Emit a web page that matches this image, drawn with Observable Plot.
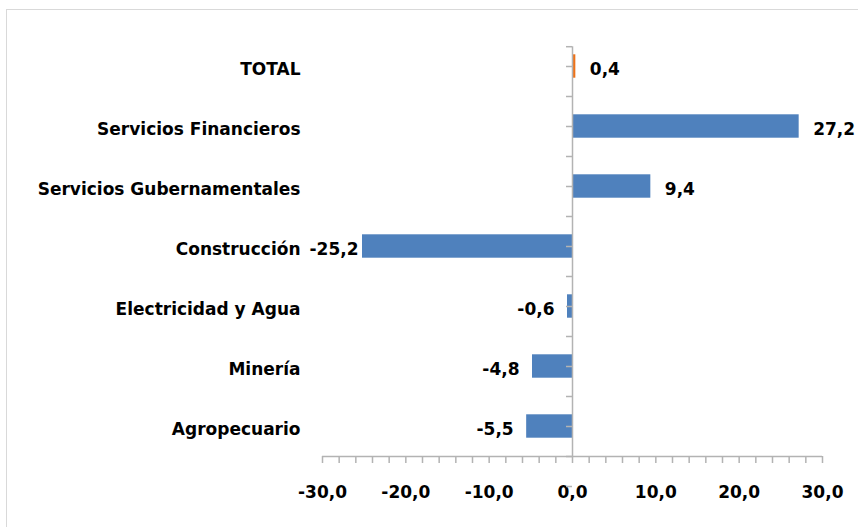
<!DOCTYPE html>
<html>
<head>
<meta charset="utf-8">
<script src="https://cdn.jsdelivr.net/npm/d3@7"></script>
<script src="https://cdn.jsdelivr.net/npm/@observablehq/plot@0.6"></script>
<style>
  html, body { margin: 0; padding: 0; background: #fff; }
  #wrap { position: relative; width: 858px; height: 527px; overflow: hidden; }
  #border { position: absolute; left: 6px; top: 9px; width: 860px; height: 530px; border: 1px solid #d9d9d9; box-sizing: border-box; pointer-events: none; }
  svg { font-family: "DejaVu Sans", sans-serif; }
</style>
</head>
<body>
<div id="wrap"><div id="border"></div><div id="chart"></div></div>
<script>
const categories = ["TOTAL", "Servicios Financieros", "Servicios Gubernamentales", "Construcción", "Electricidad y Agua", "Minería", "Agropecuario"];
const values = [0.4, 27.2, 9.4, -25.2, -0.6, -4.8, -5.5];
const barColors = ["#EE7218", "#4F81BD", "#4F81BD", "#4F81BD", "#4F81BD", "#4F81BD", "#4F81BD"];
const xTickLabels = [-30, -20, -10, 0, 10, 20, 30];
const xMinorTicks = d3.range(-30, 31, 2);

const data = categories.map((c, i) => ({cat: c, i, v: values[i], color: barColors[i]}));
const fmt = d => d.toFixed(1).replace(".", ",");
const half = 0.195;
const yBoundaryTicks = d3.range(0, categories.length + 0.5, 0.5);
const axisTop = -0.33;
const gray = "#b3b3b3";
const bottom = categories.length - 0.5;

const chart = Plot.plot({
  width: 858,
  height: 527,
  marginLeft: 322,
  marginRight: 36,
  marginTop: 36,
  marginBottom: 71,
  x: {domain: [-30, 30]},
  y: {domain: [bottom, -0.5]},
  style: {fontSize: "17px", fontWeight: "bold", color: "#000", background: "transparent"},
  marks: [
    Plot.rect(data, {x1: 0, x2: "v", y1: d => d.i - half, y2: d => d.i + half, fill: "color"}),
    // horizontal axis line
    Plot.ruleY([bottom], {stroke: gray, strokeWidth: 1.5}),
    // x ticks (short rules below the axis line)
    Plot.ruleX(xMinorTicks, {y1: bottom, y2: bottom, insetBottom: -7, stroke: gray, strokeWidth: 1.5}),
    // x tick labels
    Plot.text(xTickLabels, {x: d => d, y: bottom, text: fmt, dy: 36, fill: "#000", fontWeight: "bold"}),
    // vertical axis at zero
    Plot.ruleX([0], {y1: axisTop, y2: bottom, stroke: gray, strokeWidth: 1.5}),
    Plot.ruleY(yBoundaryTicks.concat([axisTop]), {x1: 0, x2: 0, insetLeft: -6, stroke: gray, strokeWidth: 1.5}),
    // category labels
    Plot.text(data, {x: -30, y: "i", text: "cat", textAnchor: "end", dx: -22, dy: 3, fill: "#000", fontWeight: "bold"}),
    // value labels
    Plot.text(data.filter(d => d.v >= 0), {x: "v", y: "i", text: d => fmt(d.v), textAnchor: "start", dx: 14, dy: 3, fill: "#000", fontWeight: "bold"}),
    Plot.text(data.filter(d => d.v < 0 && d.v > -20), {x: "v", y: "i", text: d => fmt(d.v), textAnchor: "end", dx: -13, dy: 3, fill: "#000", fontWeight: "bold"}),
    Plot.text(data.filter(d => d.v <= -20), {x: "v", y: "i", text: d => fmt(d.v), textAnchor: "end", dx: -4, dy: 3, fill: "#000", fontWeight: "bold"})
  ],
  axis: null
});
document.getElementById("chart").appendChild(chart);
</script>
</body>
</html>
